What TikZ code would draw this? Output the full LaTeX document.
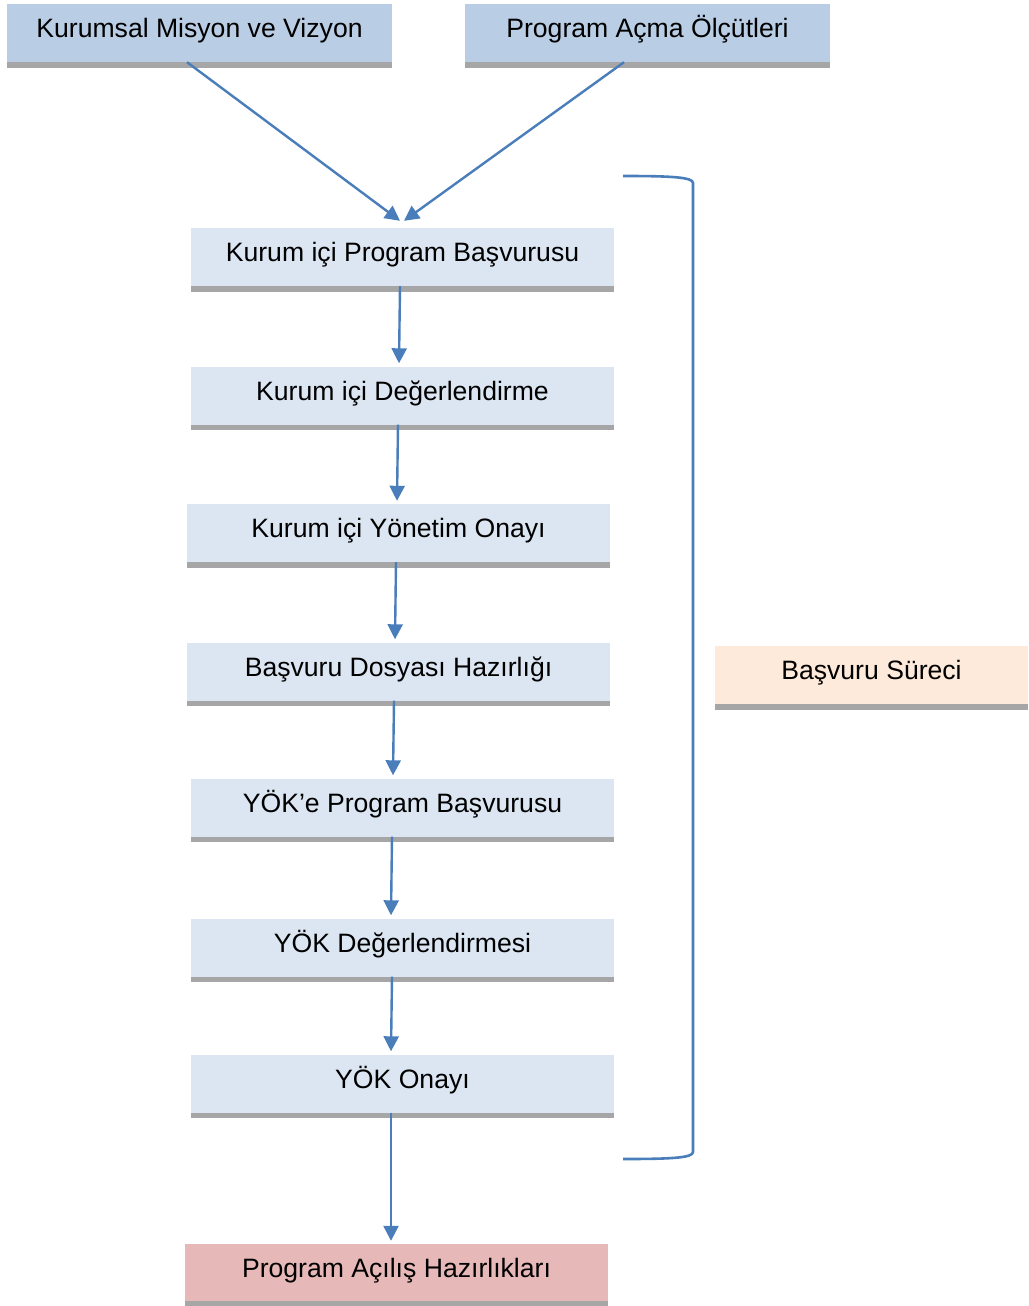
\documentclass[tikz,border=0pt]{standalone}
\usepackage{fontspec}
\setmainfont{Liberation Sans}
\usetikzlibrary{arrows.meta}
\definecolor{topblue}{HTML}{B9CDE5}
\definecolor{lightblue}{HTML}{DCE6F2}
\definecolor{rosefill}{HTML}{E6B9B8}
\definecolor{peach}{HTML}{FDEADA}
\definecolor{barcol}{HTML}{A6A6A6}
\definecolor{linecol}{HTML}{4A7EBB}
\tikzset{
  stepbox/.style={inner sep=0pt, minimum height=58pt, text height=20pt, text depth=11pt,
    font=\fontsize{26.6}{30}\selectfont, align=center},
  bar/.style={fill=barcol},
  conn/.style={draw=linecol, line width=2.4pt, -{Triangle[width=15pt,length=15pt]}},
  brk/.style={draw=linecol, line width=2.6pt}
}
\begin{document}
\begin{tikzpicture}[x=1pt,y=-1pt]
\useasboundingbox (0,0) rectangle (1028,1306);
\fill[white] (0,0) rectangle (1028,1306);
% top boxes
\node[stepbox, fill=topblue, minimum width=385pt] (A) at (199.5,33) {Kurumsal Misyon ve Vizyon};
\node[stepbox, fill=topblue, minimum width=365pt] (B) at (647.5,33) {Program Açma Ölçütleri};
% main chain
\node[stepbox, fill=lightblue, minimum width=423pt] (b1) at (402.5,257) {Kurum içi Program Başvurusu};
\node[stepbox, fill=lightblue, minimum width=423pt] (b2) at (402.5,395.5) {Kurum içi Değerlendirme};
\node[stepbox, fill=lightblue, minimum width=423pt] (b3) at (398.5,533) {Kurum içi Yönetim Onayı};
\node[stepbox, fill=lightblue, minimum width=423pt] (b4) at (398.5,671.5) {Başvuru Dosyası Hazırlığı};
\node[stepbox, fill=lightblue, minimum width=423pt] (b5) at (402.5,807.5) {YÖK’e Program Başvurusu};
\node[stepbox, fill=lightblue, minimum width=423pt] (b6) at (402.5,947.5) {YÖK Değerlendirmesi};
\node[stepbox, fill=lightblue, minimum width=423pt] (b7) at (402.5,1083.5) {YÖK Onayı};
\node[stepbox, fill=rosefill, minimum width=423pt, minimum height=57pt] (b8) at (396.5,1272.5) {Program Açılış Hazırlıkları};
\node[stepbox, fill=peach, minimum width=313pt] (R) at (871.5,675) {Başvuru Süreci};
% bottom bars
\foreach \n in {A,B,b1,b2,b3,b4,b5,b6,b7,b8,R}{
  \fill[bar] (\n.south west) rectangle ([yshift=-5.5pt]\n.south east);
}
% connectors
\draw[conn] ([xshift=-12.5pt]A.south) -- ([xshift=-2.5pt,yshift=7pt]b1.north);
\draw[conn] ([xshift=-23.5pt]B.south) -- ([xshift=1.5pt,yshift=7pt]b1.north);
\draw[conn] ([xshift=-2.5pt]b1.south) -- ([xshift=-3.5pt,yshift=3pt]b2.north);
\draw[conn] ([xshift=-4.5pt]b2.south) -- ([xshift=-1.5pt,yshift=3pt]b3.north);
\draw[conn] ([xshift=-2.5pt]b3.south) -- ([xshift=-3.5pt,yshift=3pt]b4.north);
\draw[conn] ([xshift=-4.5pt]b4.south) -- ([xshift=-9.5pt,yshift=3pt]b5.north);
\draw[conn] ([xshift=-10.5pt]b5.south) -- ([xshift=-11.5pt,yshift=3pt]b6.north);
\draw[conn] ([xshift=-10.5pt]b6.south) -- ([xshift=-11.5pt,yshift=3pt]b7.north);
\draw[conn] ([xshift=-11.5pt]b7.south) -- ([xshift=-5.5pt,yshift=3pt]b8.north);
% bracket
\coordinate (k1) at (623,176);
\coordinate (k2) at (693,183);
\coordinate (k3) at (693,1152);
\coordinate (k4) at (623,1159);
\draw[brk] (k1) .. controls (670,176) and (693,177) .. (k2) -- (k3) .. controls (693,1158) and (670,1159) .. (k4);
\end{tikzpicture}
\end{document}
